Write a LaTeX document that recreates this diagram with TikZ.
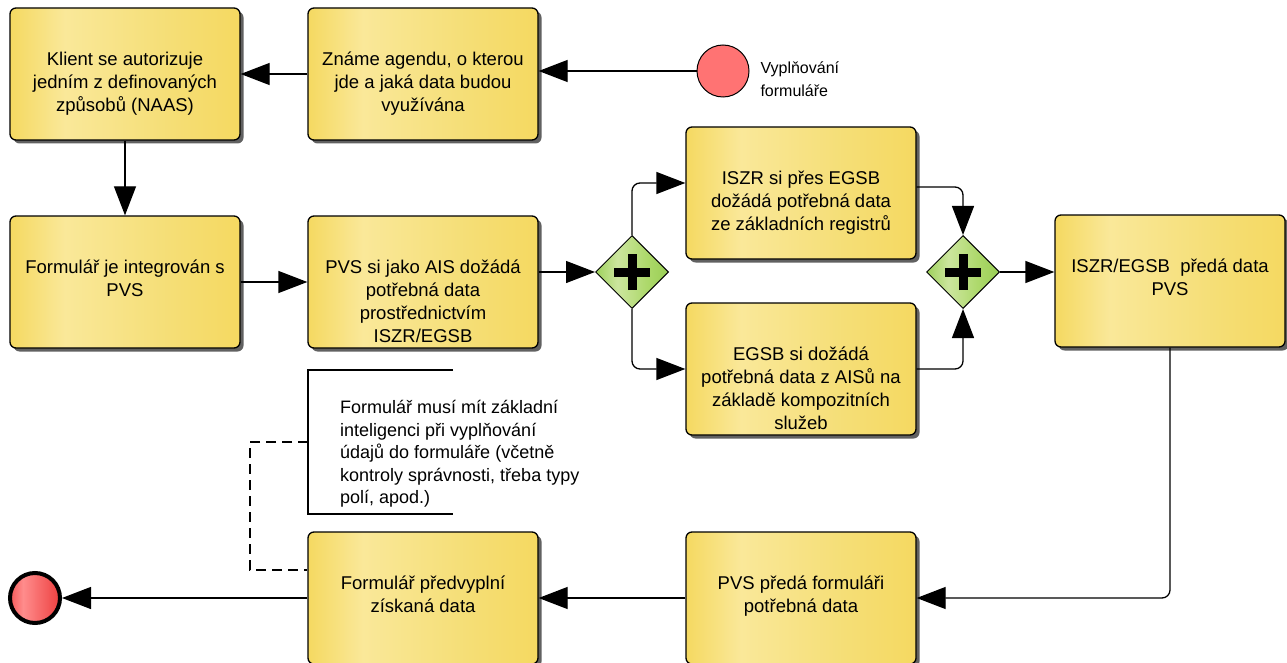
\documentclass[tikz,border=0pt]{standalone}
\usepackage{fontspec}
\setmainfont{Liberation Sans}
\usepackage{tikz}
\usetikzlibrary{arrows.meta}
\usetikzlibrary{positioning}
\usetikzlibrary{shapes.geometric}
\usetikzlibrary{shadows}

\definecolor{startred}{HTML}{FF7373}
\pgfdeclarehorizontalshading{taskfill}{100bp}{rgb(0bp)=(0.96,0.85,0.38);rgb(25bp)=(0.96,0.85,0.38);rgb(37bp)=(0.98,0.91,0.60);rgb(60bp)=(0.96,0.87,0.46);rgb(75bp)=(0.96,0.85,0.38);rgb(100bp)=(0.96,0.85,0.38)}
\pgfdeclarehorizontalshading{gatefill}{100bp}{rgb(0bp)=(0.62,0.82,0.36);rgb(25bp)=(0.62,0.82,0.36);rgb(40bp)=(0.80,0.90,0.62);rgb(60bp)=(0.68,0.85,0.42);rgb(75bp)=(0.60,0.81,0.33);rgb(100bp)=(0.60,0.81,0.33)}
\pgfdeclarehorizontalshading{endfill}{100bp}{rgb(0bp)=(0.96,0.35,0.35);rgb(25bp)=(0.96,0.35,0.35);rgb(38bp)=(1,0.55,0.55);rgb(75bp)=(0.93,0.25,0.25);rgb(100bp)=(0.93,0.25,0.25)}
\newcommand{\tasktext}[1]{\parbox[c][132pt][t]{224pt}{\centering\vspace*{41pt}\strut#1\strut}}

\begin{document}
\begin{tikzpicture}[x=1pt,y=-1pt,every node/.style={font=\fontsize{18.5}{23}\selectfont},
  task/.style={draw,line width=1.3pt,rounded corners=6pt,shading=taskfill,minimum width=230pt,minimum height=132pt,inner sep=0pt,
    drop shadow={shadow xshift=3.5pt,shadow yshift=-3.5pt,fill=black!62,opacity=1}},
  gate/.style={diamond,aspect=1,draw,line width=1pt,shading=gatefill,minimum width=73pt,minimum height=73pt,inner sep=0pt,
    path picture={\draw[line width=9pt] ([xshift=-18pt]path picture bounding box.center)--([xshift=18pt]path picture bounding box.center)
      ([yshift=-18pt]path picture bounding box.center)--([yshift=18pt]path picture bounding box.center);}},
  startev/.style={circle,draw,line width=1pt,fill=startred,minimum size=52pt,inner sep=0pt},
  endev/.style={circle,draw,line width=4pt,shading=endfill,minimum size=50pt,inner sep=0pt},
  flow/.style={line width=1.3pt,rounded corners=8pt,-{Triangle[length=29pt,width=22pt]}},
  assoc/.style={line width=1.3pt,dash pattern=on 10pt off 6pt}]
  \useasboundingbox (0,0) rectangle (1287,663);

  \node (start) at (723,71)[startev]{};
  \node (startlbl) at (757,79)[anchor=west,align=left,font=\fontsize{16}{23}\selectfont]{Vyplňování\\formuláře};
  \node (agenda) at (423,74)[task]{\tasktext{Známe agendu, o kterou\\jde a jaká data budou\\využívána}};
  \node (auth) at (125,74)[task]{\tasktext{Klient se autorizuje\\jedním z definovaných\\způsobů (NAAS)}};

  \node (integ) at (125,282)[task]{\tasktext{Formulář je integrován s\\PVS}};
  \node (req) at (423,282)[task]{\tasktext{PVS si jako AIS dožádá\\potřebná data\\prostřednictvím\\ISZR/EGSB}};
  \node (gw1) at (632,272)[gate]{};
  \node (ptop) at (801,193)[task]{\tasktext{ISZR si přes EGSB\\dožádá potřebná data\\ze základních registrů}};
  \node (pbot) at (801,369)[task]{\tasktext{EGSB si dožádá\\potřebná data z AISů na\\základě kompozitních\\služeb}};
  \node (gw2) at (963,272)[gate]{};
  \node (pass) at (1170,281)[task]{\tasktext{ISZR/EGSB\ \ předá data\\PVS}};

  \node (give) at (801,598)[task]{\tasktext{PVS předá formuláři\\potřebná data}};
  \node (prefill) at (423,598)[task]{\tasktext{Formulář předvyplní\\získaná data}};
  \node (end) at (35,598)[endev]{};

  \node (note) at (340,454)[anchor=west,align=left,inner sep=0pt,font=\fontsize{18}{22.5}\selectfont]{Formulář musí mít základní\\inteligenci při vyplňování\\údajů do formuláře (včetně\\kontroly správnosti, třeba typy\\polí, apod.)};
  \coordinate (notel) at (308,442);

  \draw[flow](start.west)--(start.west -| agenda.east);
  \draw[flow](agenda)--(auth);
  \draw[flow](auth)--(integ);
  \draw[flow](integ)--(req);
  \draw[flow](req.east |- gw1)--(gw1);
  \draw[flow](gw1)|-([yshift=10pt]ptop.west);
  \draw[flow](gw1)|-(pbot);
  \draw[flow]([yshift=6pt]ptop.east)-|(gw2);
  \draw[flow](pbot)-|(gw2);
  \draw[flow](gw2)--(gw2 -| pass.west);
  \draw[flow](pass)|-(give);
  \draw[flow](give)--(prefill);
  \draw[flow](prefill)--(end);

  \draw[line width=1.3pt](453,370)-|(notel)|-(453,514);
  \draw[assoc](notel)--(250,442)|-([yshift=28pt]prefill.west);
\end{tikzpicture}
\end{document}
